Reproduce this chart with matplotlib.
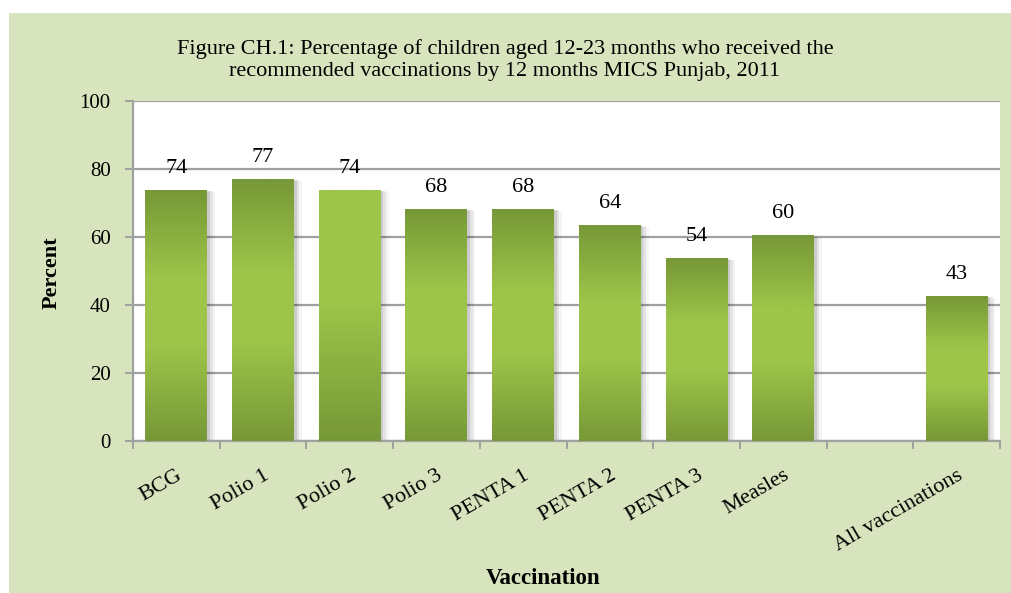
import numpy as np
import matplotlib
matplotlib.use("Agg")
import matplotlib.pyplot as plt
from matplotlib.colors import LinearSegmentedColormap
from matplotlib.patches import Rectangle

categories = ["BCG", "Polio 1", "Polio 2", "Polio 3", "PENTA 1", "PENTA 2",
              "PENTA 3", "Measles", "", "All vaccinations"]
values = [73.8, 77.0, 73.8, 68.2, 68.2, 63.5, 53.6, 60.3, np.nan, 42.6]
value_labels = ["74", "77", "74", "68", "68", "64", "54", "60", "", "43"]
yticks = [0, 20, 40, 60, 80, 100]

title = ("Figure CH.1: Percentage of children aged 12-23 months who received the\n"
         "recommended vaccinations by 12 months MICS Punjab, 2011")

# styling
plt.rcParams['font.family'] = ['Liberation Serif', 'DejaVu Serif']
dark = "#779837"
light = "#9dc549"
cmap_mid = LinearSegmentedColormap.from_list(
    "mid", [(0, dark), (0.35, light), (0.62, light), (1.0, dark)])
cmap_top = LinearSegmentedColormap.from_list(
    "top", [(0, light), (0.45, light), (1.0, dark)])
light_top = [False, False, True, False, False, False, False, False, False, False]
bar_width = 0.715
grid_col = "#a0a0a0"

fig = plt.figure(figsize=(10.11, 5.93), dpi=100)
fig.patch.set_facecolor("white")
fig.patches.append(Rectangle((9 / 1011, 0), 1, 1 - 13 / 593, transform=fig.transFigure,
                             facecolor="#d8e4bd", edgecolor="none", zorder=-10))

ax = fig.add_axes([133 / 1011, 1 - 441 / 593, (1000 - 133) / 1011, (441 - 101) / 593])
ax.set_facecolor("white")

grad = np.linspace(0, 1, 256).reshape(-1, 1)
for i, v in enumerate(values):
    if np.isnan(v):
        continue
    x0 = i + 0.5 - bar_width / 2
    x1 = i + 0.5 + bar_width / 2
    # soft shadow
    for k, a in enumerate([0.10, 0.07, 0.04]):
        d = 0.02 * (k + 1)
        ax.add_patch(Rectangle((x0 + d * 0.5, 0), bar_width + d, v - d * 8,
                               facecolor="black", alpha=a, edgecolor="none", zorder=2))
    cm = cmap_top if light_top[i] else cmap_mid
    ax.imshow(grad, cmap=cm, extent=[x0, x1, 0, v], aspect="auto",
              origin="upper", zorder=3, interpolation="bilinear")
    ax.annotate(value_labels[i], (i + 0.5, v), xytext=(0, 9), textcoords="offset points",
                ha="center", va="bottom", fontsize=16, zorder=5)

ax.set_xlim(0, len(categories))
ax.set_ylim(0, 100)
ax.set_yticks(yticks)
ax.yaxis.grid(True, color=grid_col, linewidth=1.6, zorder=1)
ax.set_axisbelow(True)

ax.set_xticks(np.arange(len(categories) + 1))
ax.set_xticklabels([])
ax.set_xticks(np.arange(len(categories)) + 0.5, minor=True)
ax.set_xticklabels(categories, minor=True, rotation=30, ha="right", va="top",
                   rotation_mode="anchor", fontsize=16)
ax.tick_params(axis="x", which="minor", length=0, pad=18)
ax.tick_params(axis="x", which="major", length=6, color=grid_col, width=1.4)
ax.tick_params(axis="y", length=6, color=grid_col, width=1.4, labelsize=15, pad=10)

for s in ["top", "right"]:
    ax.spines[s].set_visible(False)
for s in ["left", "bottom"]:
    ax.spines[s].set_color(grid_col)
    ax.spines[s].set_linewidth(1.6)

fig.text(505 / 1011, 1 - 60 / 593, title, ha="center", va="center",
         fontsize=16, linespacing=1.2)
fig.text(52 / 1011, 1 - 273 / 593, "Percent", rotation=90, ha="center", va="center",
         fontsize=16, fontweight="bold")
fig.text(543 / 1011, 1 - 578 / 593, "Vaccination", ha="center", va="center",
         fontsize=16.5, fontweight="bold")

fig.savefig("out.png", dpi=100)
